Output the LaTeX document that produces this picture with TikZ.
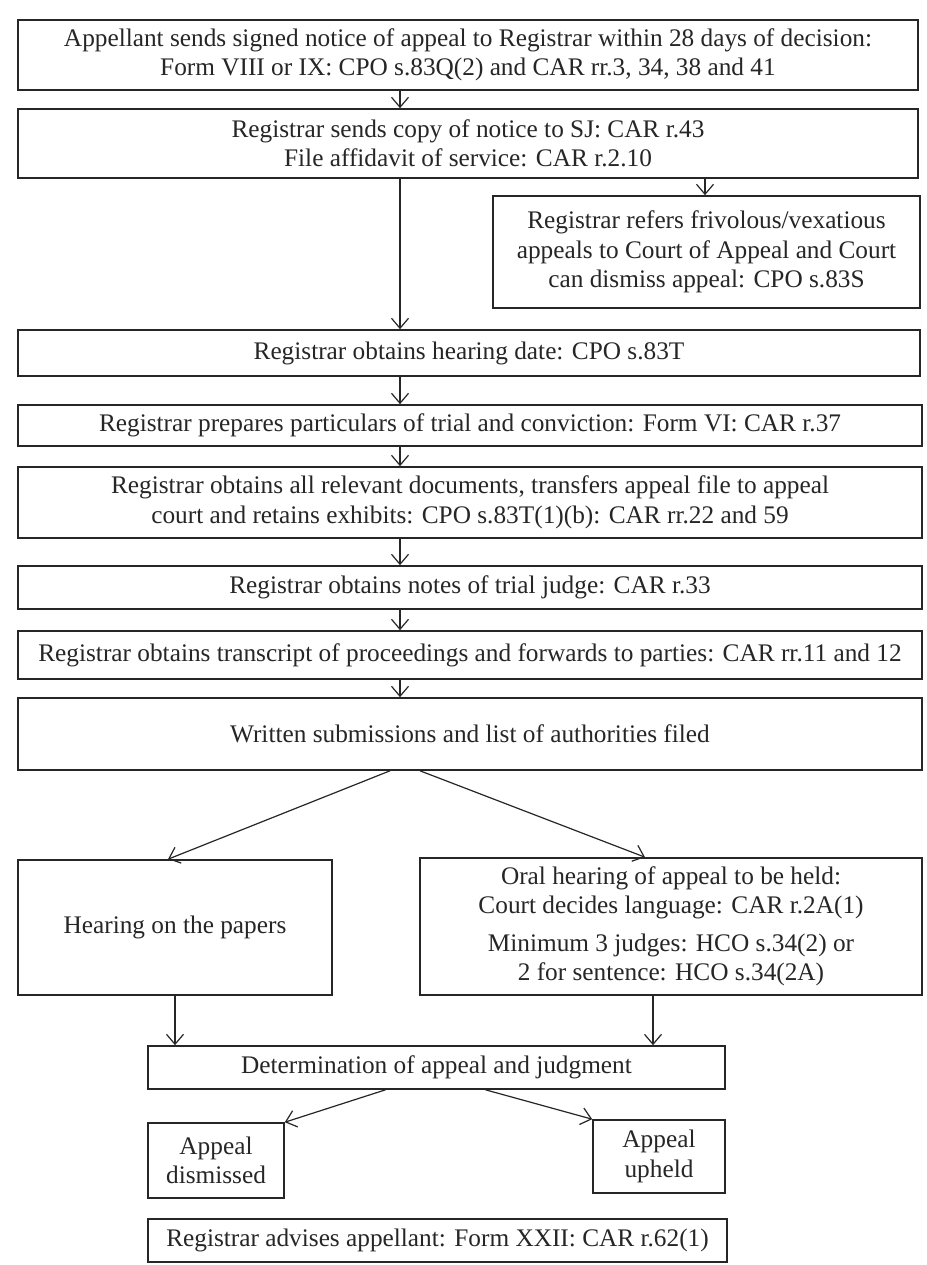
\documentclass[tikz,border=0pt]{standalone}
\usepackage{fontspec}
\setmainfont{Liberation Serif}
\usetikzlibrary{arrows.meta,calc}
\begin{document}
\begin{tikzpicture}[x=1pt,y=-1pt,
  box/.style={draw=black!85,line width=1.6pt,align=center,inner sep=2pt,
    font=\fontsize{25.3}{29.5}\selectfont,text=black!85},
  arr/.style={draw=black!85,line width=1.2pt,-{Straight Barb[length=10pt,width=17pt,line width=1.2pt]}}]
\useasboundingbox (0,0) rectangle (926,1265);
\fill[white] (0,0) rectangle (926,1265);
% helper: box by corners
\newcommand\bx[6]{\node[box,minimum width={(#4-#2)*1pt},minimum height={(#5-#3)*1pt}] (#1) at ({(#2+#4)/2},{(#3+#5)/2}) {#6};}
\bx{b1}{18}{20}{918}{90}{Appellant sends signed notice of appeal to Registrar within 28 days of decision:\\Form VIII or IX: CPO s.83Q(2) and CAR rr.3, 34, 38 and 41}
\bx{b2}{18}{109}{918}{178}{Registrar sends copy of notice to SJ: CAR r.43\\File affidavit of service: CAR r.2.10}
\bx{b3}{493}{196}{920}{308}{Registrar refers frivolous/vexatious\\appeals to Court of Appeal and Court\\can dismiss appeal: CPO s.83S}
\bx{b4}{18}{330}{920}{376}{Registrar obtains hearing date: CPO s.83T}
\bx{b5}{18}{405}{922}{446}{Registrar prepares particulars of trial and conviction: Form VI: CAR r.37}
\bx{b6}{18}{467}{922}{538}{Registrar obtains all relevant documents, transfers appeal file to appeal\\court and retains exhibits: CPO s.83T(1)(b): CAR rr.22 and 59}
\bx{b7}{18}{566}{922}{609}{Registrar obtains notes of trial judge: CAR r.33}
\bx{b8}{18}{631}{922}{679}{Registrar obtains transcript of proceedings and forwards to parties: CAR rr.11 and 12}
\bx{b9}{18}{698}{922}{770}{Written submissions and list of authorities filed}
\bx{b10}{18}{860}{332}{995}{Hearing on the papers}
\bx{b11}{420}{858}{922}{995}{Oral hearing of appeal to be held:\\Court decides language: CAR r.2A(1)\\[8pt]Minimum 3 judges: HCO s.34(2) or\\2 for sentence: HCO s.34(2A)}
\bx{b12}{148}{1046}{725}{1089}{Determination of appeal and judgment}
\bx{b13}{148}{1123}{284}{1198}{Appeal\\dismissed}
\bx{b14}{593}{1120}{725}{1193}{Appeal\\upheld}
\bx{b15}{148}{1219}{727}{1262}{Registrar advises appellant: Form XXII: CAR r.62(1)}
% connectors
\coordinate (cx) at (400,0);
\coordinate (cy) at (705,0);
\draw[arr] (b1.south -| cx) -- (b2.north -| cx);
\draw[arr] (b2.south -| cy) -- (b3.north -| cy);
\draw[arr] (b2.south -| cx) -- (b4.north -| cx);
\draw[arr] (b4.south -| cx) -- (b5.north -| cx);
\draw[arr] (b5.south -| cx) -- (b6.north -| cx);
\draw[arr] (b6.south -| cx) -- (b7.north -| cx);
\draw[arr] (b7.south -| cx) -- (b8.north -| cx);
\draw[arr] (b8.south -| cx) -- (b9.north -| cx);
\draw[arr] ($(b9.south)+(-80,0)$) -- ($(b10.north)+(-7,0)$);
\draw[arr] ($(b9.south)+(-50,0)$) -- ($(b11.north)+(-26,0)$);
\draw[arr] (b10.south) -- (b12.north -| b10.south);
\draw[arr] ($(b11.south)+(-18,0)$) -- ($(b12.north -| b11.south)+(-18,0)$);
\draw[arr] ($(b12.south)+(-51,0)$) -- (b13.north east);
\draw[arr] ($(b12.south)+(49,0)$) -- (b14.north west);
\end{tikzpicture}
\end{document}
